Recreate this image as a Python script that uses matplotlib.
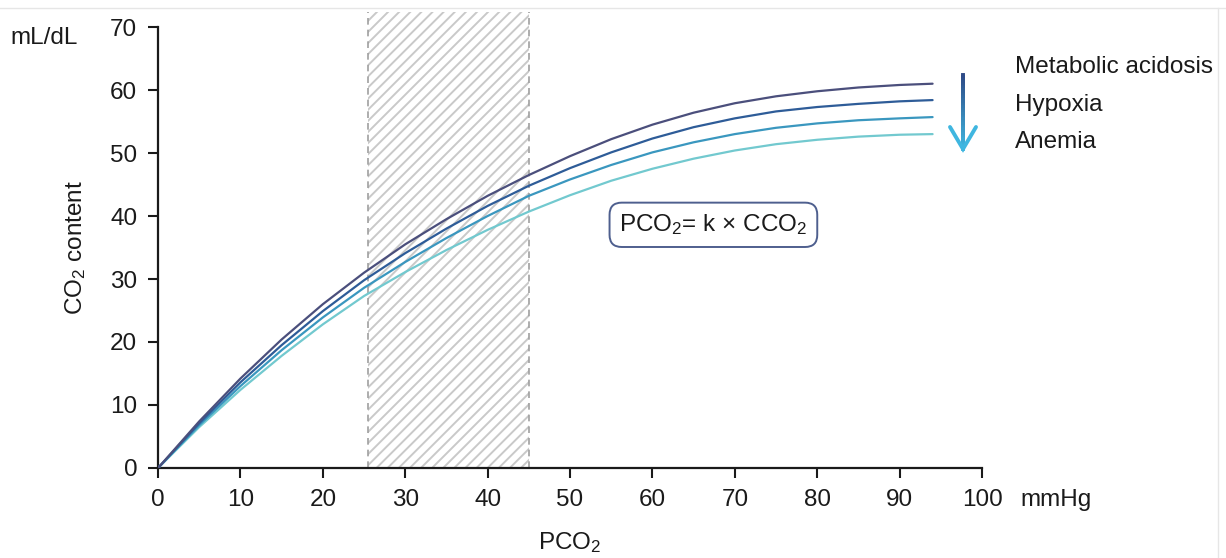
"""
CO2 dissociation curves — CO2 content vs PCO2.
"""

import numpy as np
import matplotlib
matplotlib.use("Agg")
import matplotlib.pyplot as plt
import matplotlib.patches as mpatches
from matplotlib.lines import Line2D


# ── Data ─────────────────────────────────────────────────────────────────────

pco2 = [0, 5, 10, 15, 20, 25, 30, 35, 40, 45, 50, 55, 60, 65, 70, 75, 80, 85, 90, 94]

curve_1 = [0, 7.4, 14.2, 20.4, 26.0, 31.0, 35.5, 39.5, 43.2, 46.5,
           49.5, 52.2, 54.5, 56.4, 57.9, 59.0, 59.8, 60.4, 60.8, 61.0]
curve_2 = [0, 7.1, 13.6, 19.5, 24.9, 29.8, 34.1, 38.0, 41.6, 44.8,
           47.6, 50.1, 52.3, 54.1, 55.5, 56.6, 57.3, 57.8, 58.2, 58.4]
curve_3 = [0, 6.8, 13.0, 18.7, 23.9, 28.6, 32.7, 36.5, 40.0, 43.2,
           45.8, 48.1, 50.1, 51.7, 53.0, 54.0, 54.7, 55.2, 55.5, 55.7]
curve_4 = [0, 6.5, 12.4, 17.8, 22.8, 27.3, 31.1, 34.6, 37.8, 40.7,
           43.3, 45.6, 47.5, 49.1, 50.4, 51.4, 52.1, 52.6, 52.9, 53.0]

shade_range = (25.5, 45)
legend_labels = ["Metabolic acidosis", "Hypoxia", "Anemia"]

x_ticks = [0, 10, 20, 30, 40, 50, 60, 70, 80, 90, 100]
y_ticks = [0, 10, 20, 30, 40, 50, 60, 70]


# ── Style ────────────────────────────────────────────────────────────────────

CURVE_COLORS = ["#4b4f7c", "#2e5c98", "#3a97bf", "#72c9cf"]
HATCH_GREY = "#c9c9c9"
TEXT = "#1a1a1a"
FS = 17.5

plt.rcParams["font.family"] = ["Liberation Sans", "DejaVu Sans"]
plt.rcParams["mathtext.fontset"] = "custom"
plt.rcParams["mathtext.rm"] = "Liberation Sans"
plt.rcParams["mathtext.it"] = "Liberation Sans:italic"
plt.rcParams["hatch.linewidth"] = 1.4

fig = plt.figure(figsize=(12.26, 5.58), dpi=100)
ax = fig.add_axes([0.1289, 0.1613, 0.6721, 0.7903])

# shaded normal range
x0, x1 = shade_range
ax.add_patch(mpatches.Rectangle((x0, 0), x1 - x0, 72.4, facecolor="none",
                                edgecolor=HATCH_GREY, lw=0, hatch="///",
                                clip_on=False, zorder=1))
for xv in shade_range:
    ax.add_line(Line2D([xv, xv], [0, 72.4], color="#a0a0a0", lw=1.2,
                       ls=(0, (4, 3)), clip_on=False, zorder=2))

for ys, c in zip([curve_4, curve_3, curve_2, curve_1], CURVE_COLORS[::-1]):
    ax.plot(pco2, ys, color=c, lw=1.6, zorder=3, solid_capstyle="round",
            solid_joinstyle="round")

ax.set_xlim(0, 100)
ax.set_ylim(0, 70)
ax.set_xticks(x_ticks)
ax.set_yticks(y_ticks)
ax.tick_params(labelsize=FS, length=7, width=1.5, colors=TEXT, pad=8)
ax.tick_params(axis="x", pad=8)
for s in ("top", "right"):
    ax.spines[s].set_visible(False)
for s in ("left", "bottom"):
    ax.spines[s].set_linewidth(1.6)
    ax.spines[s].set_color(TEXT)

ax.set_ylabel(r"CO$_2$ content", fontsize=FS, color=TEXT, labelpad=16)
ax.set_xlabel(r"PCO$_2$", fontsize=FS, color=TEXT, labelpad=14)

fig.text(10 / 1226, 1 - 38 / 558, "mL/dL", fontsize=FS, color=TEXT,
         ha="left", va="center")
fig.text(1020 / 1226, 1 - 500 / 558, "mmHg", fontsize=FS, color=TEXT,
         ha="left", va="center")

# formula box
ax.text(67.4, 38.6, r"PCO$_2$= k × CCO$_2$", fontsize=FS, color=TEXT,
        ha="center", va="center", zorder=4,
        bbox=dict(boxstyle="round,pad=0.4,rounding_size=0.5", fc="white",
                  ec="#4e5f8e", lw=1.4))

# legend text + gradient arrow
for i, lab in enumerate(legend_labels):
    fig.text(1015 / 1226, 1 - (67 + 37.5 * i) / 558, lab, fontsize=FS,
             color=TEXT, ha="left", va="center")

ax_x = 963 / 1226
y_top, y_bot = 1 - 75 / 558, 1 - 149 / 558
n = 30
ys = np.linspace(y_top, y_bot, n + 1)
cmap = matplotlib.colors.LinearSegmentedColormap.from_list(
    "arr", ["#2e4a86", "#3fb6e0"])
for k in range(n):
    fig.add_artist(Line2D([ax_x, ax_x], [ys[k], ys[k + 1]], lw=2.8,
                          color=cmap(k / n), transform=fig.transFigure))
head_w = 13 / 1226
head_h = 22 / 558
fig.add_artist(Line2D([ax_x - head_w, ax_x, ax_x + head_w],
                      [y_bot + head_h, y_bot, y_bot + head_h], lw=2.8,
                      color="#3fb6e0", solid_joinstyle="miter",
                      solid_capstyle="round", transform=fig.transFigure))

# faint scan border
fig.add_artist(Line2D([0, 1], [1 - 8 / 558] * 2, lw=1, color="#e6e6e6",
                      transform=fig.transFigure))
fig.add_artist(Line2D([1218 / 1226] * 2, [0, 1 - 8 / 558], lw=1,
                      color="#e6e6e6", transform=fig.transFigure))

fig.savefig("out.png", dpi=100, facecolor="white")
plt.close(fig)
